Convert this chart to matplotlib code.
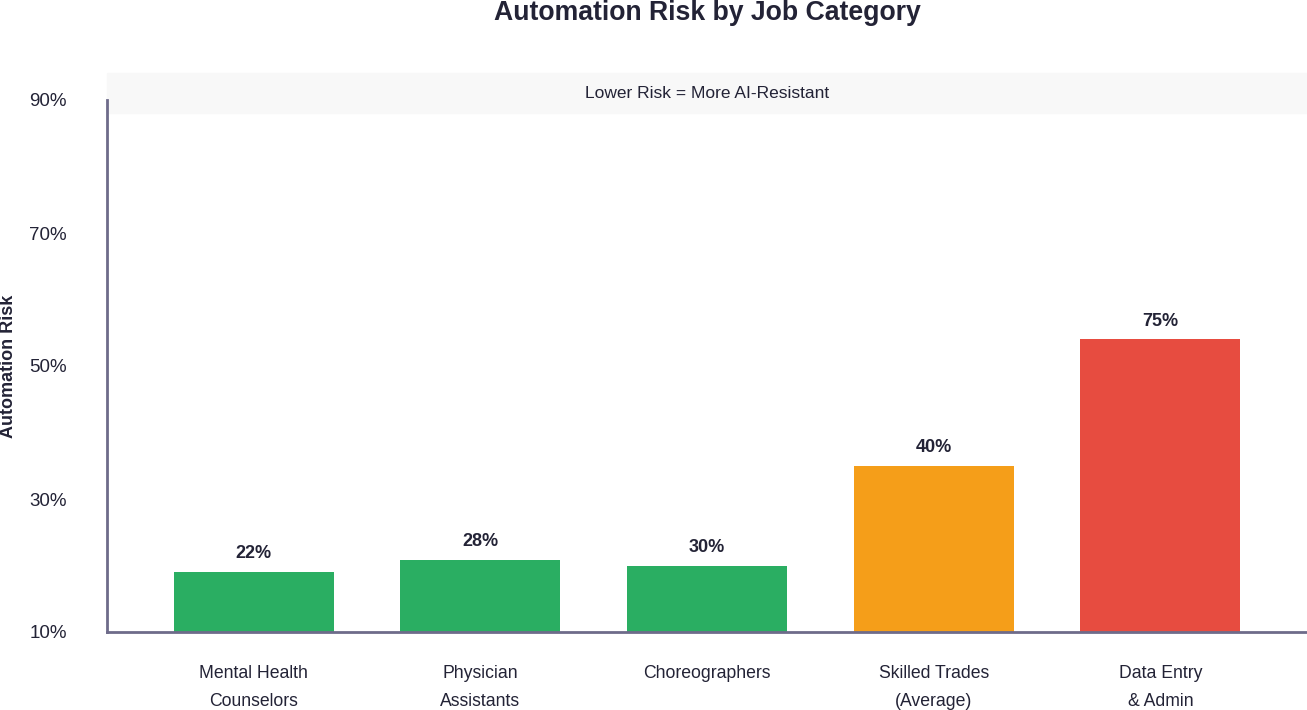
import matplotlib.pyplot as plt
from matplotlib.patches import Rectangle

plt.rcParams['font.family'] = ['Liberation Sans', 'DejaVu Sans']

categories = ['Mental Health\nCounselors', 'Physician\nAssistants', 'Choreographers',
              'Skilled Trades\n(Average)', 'Data Entry\n& Admin']
bar_heights = [19.0, 20.9, 19.9, 35.0, 54.0]
value_labels = ['22%', '28%', '30%', '40%', '75%']
bar_colors = ['#2aae62', '#2aae62', '#2aae62', '#f59e19', '#e74c40']
y_ticks = [10, 30, 50, 70, 90]

text_color = '#232336'
spine_color = '#6e6b8a'

fig = plt.figure(figsize=(13.07, 7.10), dpi=100)

# banner strip above the plot
fig.patches.append(Rectangle((107 / 1307, 597 / 710), 1200 / 1307, 40 / 710,
                             transform=fig.transFigure, color='#f8f8f8', zorder=0))
fig.text(707 / 1307, 616 / 710, 'Lower Risk = More AI-Resistant', ha='center', va='center',
         fontsize=12.5, color=text_color)

ax = fig.add_axes([107 / 1307, 78 / 710, 1200 / 1307, 532 / 710])
ax.set_zorder(2)
ax.patch.set_alpha(0)

x = range(len(categories))
bars = ax.bar(x, [h - 10 for h in bar_heights], bottom=10, width=0.705,
              color=bar_colors, zorder=2)

for bar, lbl in zip(bars, value_labels):
    ax.annotate(lbl, (bar.get_x() + bar.get_width() / 2, bar.get_y() + bar.get_height()),
                xytext=(0, 7), textcoords='offset points', ha='center', va='bottom',
                fontsize=13, fontweight='bold', color=text_color)

ax.set_xlim(-0.647, 4.647)
ax.set_ylim(10, 90)
ax.set_yticks(y_ticks)
ax.set_yticklabels([f'{t}%' for t in y_ticks], fontsize=13.5, color=text_color)
ax.set_xticks(list(x))
ax.set_xticklabels(categories, fontsize=12.7, color=text_color, linespacing=1.85)
ax.tick_params(axis='both', length=0)
ax.tick_params(axis='x', pad=24)
ax.tick_params(axis='y', pad=29)

for side in ['top', 'right']:
    ax.spines[side].set_visible(False)
for side in ['left', 'bottom']:
    ax.spines[side].set_color(spine_color)
    ax.spines[side].set_linewidth(2)

ax.set_ylabel('Automation Risk', fontsize=13, fontweight='bold', color=text_color)
ax.yaxis.set_label_coords(-0.075, 0.5)

fig.text(707 / 1307, 690 / 710, 'Automation Risk by Job Category', ha='center', va='baseline',
         fontsize=19.2, fontweight='bold', color=text_color)

fig.savefig('out.png', dpi=100)
